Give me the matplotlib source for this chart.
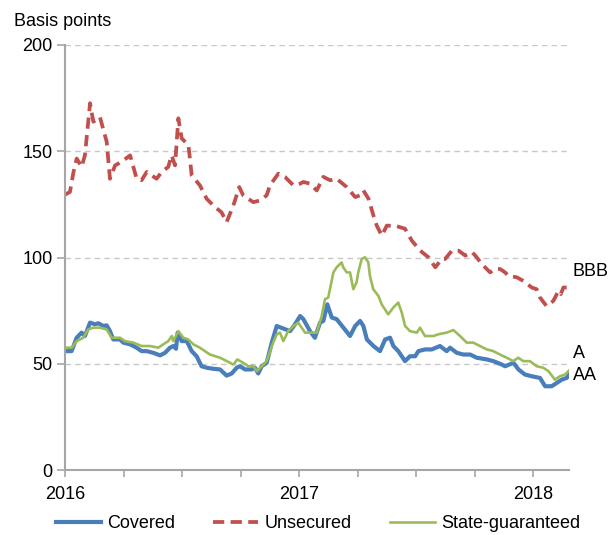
import matplotlib.pyplot as plt
import numpy as np

plt.rcParams['font.family'] = ['Liberation Sans', 'DejaVu Sans']

# dates as decimal years, spreads in basis points
unsec_t = [2016.000, 2016.021, 2016.036, 2016.050, 2016.071, 2016.085, 2016.107,
           2016.121, 2016.149, 2016.178, 2016.192, 2016.214, 2016.242, 2016.278,
           2016.306, 2016.327, 2016.349, 2016.391, 2016.413, 2016.441, 2016.455,
           2016.470, 2016.484, 2016.498, 2016.527, 2016.541, 2016.576, 2016.605,
           2016.640, 2016.668, 2016.690, 2016.719, 2016.744, 2016.761, 2016.804,
           2016.833, 2016.861, 2016.875, 2016.911, 2016.939, 2016.975, 2017.004,
           2017.018, 2017.046, 2017.075, 2017.103, 2017.132, 2017.160, 2017.203,
           2017.239, 2017.260, 2017.274, 2017.296, 2017.317, 2017.331, 2017.353,
           2017.374, 2017.417, 2017.452, 2017.481, 2017.517, 2017.552, 2017.581,
           2017.609, 2017.623, 2017.652, 2017.681, 2017.709, 2017.738, 2017.752,
           2017.780, 2017.815, 2017.837, 2017.858, 2017.879, 2017.893, 2017.929,
           2017.957, 2017.993, 2018.014, 2018.028, 2018.056, 2018.085, 2018.107,
           2018.117, 2018.128, 2018.142]
unsec_v = [129.5, 130.8, 140.0, 146.5, 142.6, 148.0, 172.5, 163.8, 166.0, 154.4,
           137.0, 143.3, 145.0, 148.0, 137.0, 136.3, 140.2, 137.0, 140.2, 142.6,
           148.0, 143.3, 165.4, 156.0, 152.8, 138.6, 133.9, 127.6, 123.7, 121.3,
           116.6, 124.5, 133.1, 129.2, 126.0, 126.8, 129.2, 133.9, 139.4, 137.9,
           133.9, 134.7, 135.5, 134.7, 131.5, 137.9, 136.3, 137.0, 133.1, 128.4,
           129.2, 131.5, 127.6, 119.7, 115.0, 110.3, 115.0, 114.7, 113.5, 107.9,
           103.2, 100.1, 95.4, 99.3, 99.3, 103.2, 103.2, 100.9, 102.5, 100.9,
           96.9, 93.0, 94.6, 94.6, 93.0, 91.4, 90.7, 89.0, 85.9, 85.1, 81.2,
           77.2, 79.6, 84.3, 82.8, 85.9, 85.9]

cov_t = [2016.000, 2016.028, 2016.050, 2016.071, 2016.085, 2016.107, 2016.128,
         2016.142, 2016.164, 2016.178, 2016.192, 2016.206, 2016.235, 2016.249,
         2016.278, 2016.306, 2016.327, 2016.349, 2016.377, 2016.406, 2016.427,
         2016.448, 2016.463, 2016.474, 2016.481, 2016.498, 2016.520, 2016.541,
         2016.562, 2016.583, 2016.605, 2016.633, 2016.662, 2016.690, 2016.712,
         2016.733, 2016.747, 2016.769, 2016.797, 2016.811, 2016.825, 2016.840,
         2016.861, 2016.883, 2016.904, 2016.961, 2016.982, 2017.004, 2017.018,
         2017.046, 2017.067, 2017.089, 2017.103, 2017.120, 2017.132, 2017.139,
         2017.160, 2017.189, 2017.217, 2017.239, 2017.260, 2017.274, 2017.289,
         2017.317, 2017.345, 2017.367, 2017.388, 2017.402, 2017.423, 2017.452,
         2017.473, 2017.495, 2017.509, 2017.537, 2017.566, 2017.601, 2017.630,
         2017.644, 2017.673, 2017.701, 2017.730, 2017.758, 2017.801, 2017.829,
         2017.865, 2017.879, 2017.915, 2017.936, 2017.964, 2017.993, 2018.028,
         2018.050, 2018.078, 2018.099, 2018.121, 2018.142, 2018.153]
cov_v = [56.0, 56.0, 62.3, 64.7, 63.1, 69.4, 68.6, 69.1, 67.8, 68.1, 65.4, 61.5,
         61.5, 60.0, 59.2, 57.6, 56.0, 56.0, 55.2, 54.0, 55.2, 57.6, 58.4, 57.1,
         64.7, 60.7, 60.7, 56.0, 53.6, 48.9, 48.2, 47.7, 47.4, 44.5, 45.5, 48.2,
         48.9, 47.4, 47.4, 48.2, 45.5, 48.9, 50.5, 60.0, 67.8, 65.4, 68.6, 72.5,
         71.0, 65.4, 62.3, 69.4, 70.2, 78.0, 74.1, 71.8, 71.0, 67.0, 63.1, 67.8,
         70.2, 67.8, 61.5, 58.4, 56.0, 61.5, 62.3, 58.4, 56.0, 51.3, 53.6, 53.6,
         56.0, 56.8, 56.8, 58.4, 56.0, 57.6, 55.2, 54.4, 54.4, 52.9, 52.1, 51.3,
         49.7, 48.9, 50.5, 47.4, 45.0, 44.2, 43.4, 39.5, 39.5, 41.0, 42.6, 43.4,
         45.0]

sg_t = [2016.000, 2016.029, 2016.050, 2016.078, 2016.099, 2016.121,
        2016.149, 2016.178, 2016.199, 2016.235, 2016.256, 2016.292,
        2016.327, 2016.363, 2016.398, 2016.420, 2016.441, 2016.456,
        2016.462, 2016.484, 2016.505, 2016.526, 2016.548, 2016.576,
        2016.619, 2016.662, 2016.705, 2016.719, 2016.736, 2016.761,
        2016.783, 2016.804, 2016.819, 2016.840, 2016.861, 2016.883,
        2016.904, 2016.918, 2016.932, 2016.953, 2016.975, 2016.996,
        2017.025, 2017.046, 2017.075, 2017.096, 2017.110, 2017.124,
        2017.146, 2017.160, 2017.181, 2017.188, 2017.203, 2017.217,
        2017.231, 2017.245, 2017.252, 2017.267, 2017.281, 2017.295,
        2017.302, 2017.316, 2017.338, 2017.352, 2017.380, 2017.402,
        2017.423, 2017.438, 2017.452, 2017.473, 2017.502, 2017.516,
        2017.537, 2017.573, 2017.594, 2017.630, 2017.658, 2017.687,
        2017.715, 2017.743, 2017.772, 2017.801, 2017.829, 2017.857,
        2017.886, 2017.914, 2017.935, 2017.957, 2017.985, 2018.014,
        2018.042, 2018.064, 2018.092, 2018.113, 2018.135, 2018.153]
sg_v = [57.6, 57.6, 60.7, 62.3, 66.2, 67.0,
        67.0, 66.2, 62.3, 62.3, 60.7, 60.0,
        58.4, 58.4, 57.6, 59.2, 60.7, 63.1,
        60.7, 65.4, 62.3, 61.5, 59.2, 57.6,
        54.4, 52.9, 50.5, 49.7, 52.1, 50.5,
        48.9, 48.9, 46.6, 48.9, 51.3, 58.4,
        63.9, 64.7, 60.7, 65.4, 67.8, 69.4,
        64.7, 64.7, 64.7, 72.5, 80.4, 81.2,
        93.0, 95.4, 97.7, 95.4, 93.0, 93.0,
        85.1, 88.3, 93.0, 99.3, 100.1, 97.7,
        91.4, 85.1, 82.0, 78.0, 73.3, 76.5,
        78.8, 74.1, 67.8, 65.4, 64.7, 67.0,
        63.1, 63.1, 63.9, 64.7, 65.9, 63.1,
        60.0, 60.0, 58.4, 56.8, 56.0, 54.4,
        52.9, 51.3, 52.9, 51.3, 51.3, 48.9,
        48.2, 46.6, 42.6, 44.2, 45.0, 47.0]

blue = '#4a7ebb'
red = '#c0504d'
green = '#9bbb59'
grey = '#a6a6a6'
fs = 13

fig = plt.figure(figsize=(6.09, 5.35), dpi=100)
ax = fig.add_axes([65 / 609, 1 - 470.3 / 535, 504 / 609, 425.6 / 535])

ax.plot(cov_t, cov_v, color=blue, lw=3.0, label='Covered', solid_joinstyle='round')
ax.plot(unsec_t, unsec_v, color=red, lw=2.7, ls=(0, (3.0, 1.7)), label='Unsecured')
ax.plot(sg_t, sg_v, color=green, lw=1.9, label='State-guaranteed')

ax.set_xlim(2016, 2018.152)
ax.set_ylim(0, 200)
ax.set_yticks([0, 50, 100, 150, 200])
ax.set_xticks([2016, 2017, 2018])
ax.set_xticklabels(['2016', '2017', '2018'])
ax.set_xticks(np.arange(2016, 2018.1, 0.25), minor=True)
ax.tick_params(axis='both', which='both', direction='out', color=grey, width=1.2,
               labelsize=fs, labelcolor='black')
ax.tick_params(axis='x', which='both', length=5, pad=6)
ax.tick_params(axis='y', length=6, pad=3)
for y in [50, 100, 150, 200]:
    ax.axhline(y, color='#c8c8c8', lw=1, ls=(0, (4, 3)), zorder=0)
for s in ['top', 'right']:
    ax.spines[s].set_visible(False)
for s in ['left', 'bottom']:
    ax.spines[s].set_color(grey)
    ax.spines[s].set_linewidth(1.5)

fig.text(14 / 609, 1 - 21 / 535, 'Basis points', fontsize=fs, va='center', ha='left')
fig.text(573 / 609, 1 - 271 / 535, 'BBB', fontsize=fs, va='center', ha='left')
fig.text(573 / 609, 1 - 354 / 535, 'A', fontsize=fs, va='center', ha='left')
fig.text(573 / 609, 1 - 376 / 535, 'AA', fontsize=fs, va='center', ha='left')

fig.legend(loc='center', bbox_to_anchor=(0.522, 1 - 524 / 535), ncol=3, frameon=False,
           fontsize=fs, handlelength=2.5, handletextpad=0.35, columnspacing=2.1)

fig.savefig('out.png', dpi=100)
